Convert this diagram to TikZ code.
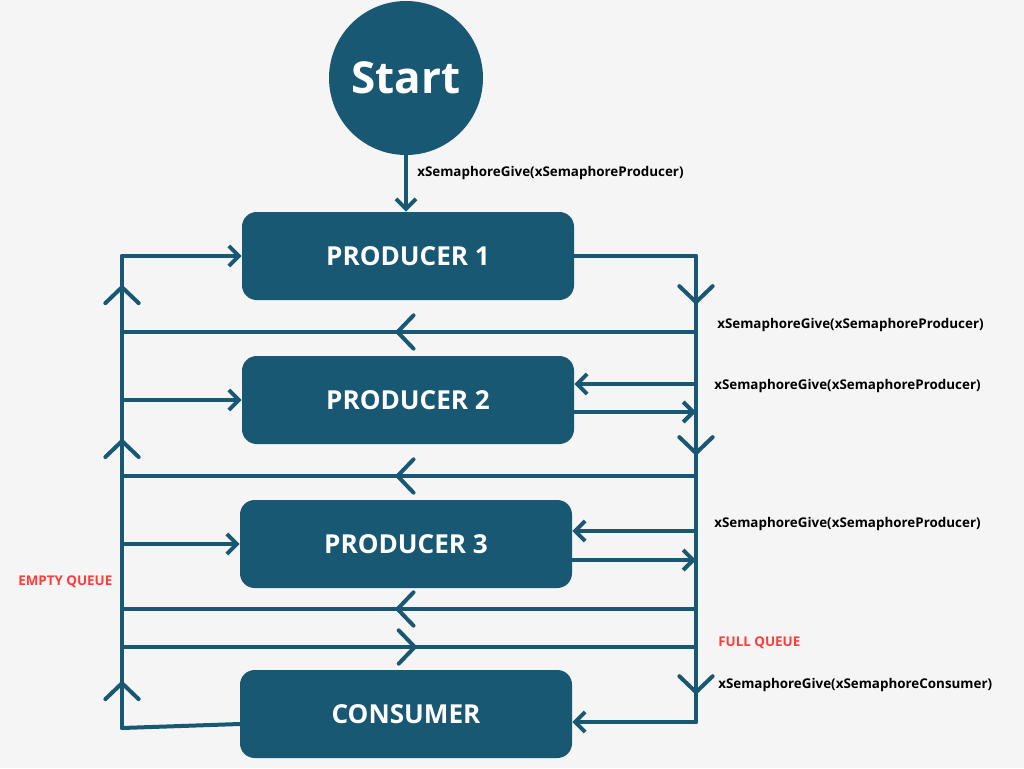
\documentclass[tikz,border=0pt]{standalone}
\usepackage{fontspec}
\setmainfont{Open Sans}
\usetikzlibrary{arrows.meta,decorations.markings}
\definecolor{queueblue}{RGB}{24,88,115}
\definecolor{queuered}{RGB}{255,60,60}
\definecolor{pagegray}{RGB}{245,245,245}

\tikzset{
  task/.style={fill=queueblue, rounded corners=11pt, minimum width=249pt, minimum height=66pt, inner sep=0pt, text=white, font=\fontsize{19.6}{23}\selectfont\bfseries},
  flow/.style={draw=queueblue, line width=3pt, line cap=round, line join=round},
  tip/.style={flow, -{Straight Barb[length=7.5pt,width=15pt]}},
  chevron/.style={postaction={decorate, decoration={markings, mark=at position #1 with {\draw[flow] (-12pt,-12.5pt) -- (0pt,0pt) -- (-12pt,12.5pt);}}}},
  call/.style={anchor=west, inner sep=0pt, font=\fontsize{10.05}{12}\selectfont\bfseries},
  queue/.style={call, text=queuered},
}

\begin{document}
\begin{tikzpicture}[x=0.75pt, y=-0.75pt]
\fill[pagegray] (0,0) rectangle (1024,768);
\useasboundingbox (0,0) rectangle (1024,768);

% Start and the four tasks
\node[circle, fill=queueblue, minimum size=115.5pt, inner sep=0pt, text=white, font=\fontsize{33}{40}\selectfont\bfseries] (start) at (406,78) {Start};
\node[task] (prod1) at (408,256) {PRODUCER 1};
\node[task] (prod2) at (408,400) {PRODUCER 2};
\node[task] (prod3) at (406,544) {PRODUCER 3};
\node[task] (cons) at (406,714) {CONSUMER};

% Rail corners
\coordinate (ltop) at (122,256);
\coordinate (lbot) at (122,728);
\coordinate (rtop) at (696,256);
\coordinate (rbot) at (696,722);

% Start to producer 1
\draw[tip] (start.south) -- (start.south |- prod1.north);
\node[call] (givestart) at (417,173) {xSemaphoreGive(xSemaphoreProducer)};

% Left and right rails
\draw[flow, chevron=0.095, chevron=0.608, chevron=0.934] (lbot) -- (ltop);
\draw[tip] (ltop) -- (prod1.west);
\draw[flow] (prod1.east) -- (rtop);
\draw[flow, chevron=0.099, chevron=0.423, chevron=0.936] (rtop) -- (rbot);

% Cross lines between the rails
\draw[flow, chevron=0.52] (rtop |- 0,332) -- (ltop |- 0,332);
\draw[flow, chevron=0.52] (rtop |- 0,476) -- (ltop |- 0,476);
\draw[flow, chevron=0.52] (rtop |- 0,609) -- (ltop |- 0,609);
\draw[flow, chevron=0.51] (ltop |- 0,647) -- (rtop |- 0,647);

% Into the producers from the left
\draw[tip] (prod2.west -| ltop) -- (prod2.west);
\draw[tip] (prod3.west -| ltop) -- (prod3.west);

% Right side give / take
\draw[tip] (rtop |- 0,384) -- (prod2.east |- 0,384);
\draw[tip] (prod2.east |- 0,412) -- (rtop |- 0,412);
\draw[tip] (rtop |- 0,531) -- (prod3.east |- 0,531);
\draw[tip] (prod3.east |- 0,560) -- (rtop |- 0,560);
\draw[tip] (rbot) -- (rbot -| cons.east);
\draw[flow] (cons.west |- 0,724) -- (lbot);

% Labels
\node[call] (give1) at (717,325) {xSemaphoreGive(xSemaphoreProducer)};
\node[call] (give2) at (714,386) {xSemaphoreGive(xSemaphoreProducer)};
\node[call] (give3) at (714,524) {xSemaphoreGive(xSemaphoreProducer)};
\node[queue] (full) at (718,643) {FULL QUEUE};
\node[call] (givecons) at (718,685) {xSemaphoreGive(xSemaphoreConsumer)};
\node[queue] (empty) at (18,582) {EMPTY QUEUE};
\end{tikzpicture}
\end{document}
